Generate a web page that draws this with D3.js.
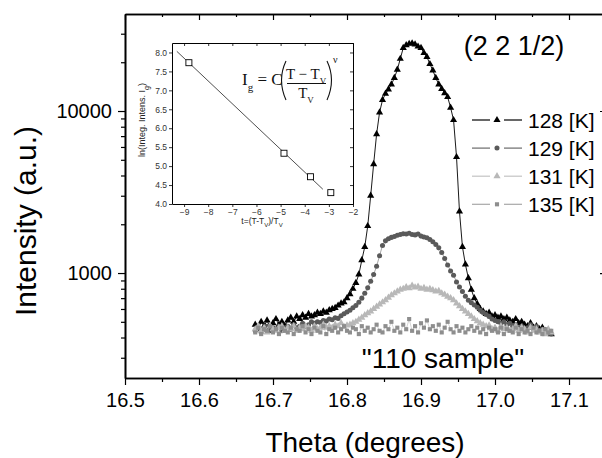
<!DOCTYPE html>
<html>
<head>
<meta charset="utf-8">
<script src="https://d3js.org/d3.v7.min.js"></script>
<style>
body { margin: 0; background: #fff; }
svg { display: block; font-family: "Liberation Sans", Arial, sans-serif; }
</style>
</head>
<body>
<svg id="chart" width="602" height="458"></svg>
<script>
// scan angle grid (degrees)
const theta = [
  16.676,16.680,16.684,16.688,16.692,16.696,16.700,16.704,16.708,16.712,
  16.716,16.720,16.724,16.728,16.732,16.736,16.740,16.744,16.748,16.752,
  16.756,16.760,16.764,16.768,16.772,16.776,16.780,16.784,16.788,16.792,
  16.796,16.800,16.804,16.808,16.812,16.816,16.820,16.824,16.828,16.832,
  16.836,16.840,16.844,16.848,16.852,16.856,16.860,16.864,16.868,16.872,
  16.876,16.880,16.884,16.888,16.892,16.896,16.900,16.904,16.908,16.912,
  16.916,16.920,16.924,16.928,16.932,16.936,16.940,16.944,16.948,16.952,
  16.956,16.960,16.964,16.968,16.972,16.976,16.980,16.984,16.988,16.992,
  16.996,17.000,17.004,17.008,17.012,17.016,17.020,17.024,17.028,17.032,
  17.036,17.040,17.044,17.048,17.052,17.056,17.060,17.064,17.068,17.072,
  17.076
];

const i128 = [
  480,450,500,470,510,460,490,520,480,500,
  470,510,530,500,540,520,550,530,560,540,
  550,570,560,580,570,590,600,610,630,650,
  660,700,740,800,870,980,1200,1450,1950,3000,
  4700,7200,9800,11700,12800,13600,14600,16000,18000,21000,
  24500,25500,26000,26200,25800,25000,24500,22800,21600,19500,
  17800,16000,14600,13700,12900,12200,10500,8800,5200,2400,
  1450,1130,930,790,700,645,600,580,560,570,
  540,550,530,540,520,530,510,500,520,490,
  500,480,470,490,460,470,450,460,440,430,
  420
];

const i129 = [
  440,460,430,450,470,440,460,450,470,440,
  460,470,450,480,460,470,490,470,480,500,
  490,500,495,510,505,520,515,530,525,545,
  560,575,590,610,630,660,700,750,810,890,
  980,1100,1280,1480,1580,1630,1660,1680,1710,1730,
  1750,1740,1760,1730,1720,1740,1690,1670,1650,1610,
  1560,1500,1430,1340,1230,1120,1030,970,880,820,
  770,720,680,655,635,615,590,570,555,540,
  520,510,500,490,500,480,490,470,480,460,
  470,450,460,480,450,470,440,450,430,440,
  420
];

const i131 = [
  450,470,440,460,430,470,450,440,460,470,
  440,460,450,470,440,460,450,470,460,440,
  470,450,460,480,460,470,460,480,470,490,
  465,475,480,490,500,515,530,550,565,580,
  600,620,640,660,680,705,730,750,770,790,
  800,820,805,835,815,825,800,810,790,800,
  785,770,775,750,735,715,700,680,650,625,
  600,580,560,540,520,505,490,480,470,475,
  450,460,440,470,450,460,440,450,470,440,
  460,450,430,460,440,450,430,440,420,450,
  430
];

const i135 = [
  430,460,420,450,440,470,430,450,420,460,
  440,430,460,420,450,440,470,430,450,420,
  460,440,430,470,420,450,440,460,430,450,
  470,440,430,460,450,420,470,440,460,430,
  450,480,440,430,470,450,500,440,460,430,
  480,450,520,440,470,430,490,460,510,450,
  470,440,480,430,460,500,450,430,470,440,
  460,430,450,470,440,460,430,450,420,460,
  440,450,430,460,420,450,440,430,460,420,
  450,430,440,420,460,430,440,420,450,430,
  440
];

const seriesNames = ["128 [K]", "129 [K]", "131 [K]", "135 [K]"];
const xTicks = [16.5, 16.6, 16.7, 16.8, 16.9, 17.0, 17.1];
const xMinor = [16.55, 16.65, 16.75, 16.85, 16.95, 17.05, 17.15];
const yTicks = [1000, 10000];
const yMinor = [300, 400, 500, 600, 700, 800, 900, 2000, 3000, 4000, 5000, 6000, 7000, 8000, 9000, 20000, 30000];

// inset: ln of integrated intensity vs reduced temperature
const insetT = [-8.8, -4.86, -3.76, -2.92];
const insetLn = [7.73, 5.34, 4.72, 4.30];
const fitT = [-9.3, -3.25];
const fitLn = [8.03, 4.39];
const insetXTicks = [-9, -8, -7, -6, -5, -4, -3, -2];
const insetYTicks = [4.0, 4.5, 5.0, 5.5, 6.0, 6.5, 7.0, 7.5, 8.0];

const svg = d3.select("#chart");

let x = d3.scaleLinear().domain([16.5, 17.15]).range([125, 606]),
    y = d3.scaleLog().domain([225, 39700]).range([378, 14]);

let series = [
  { name: seriesNames[0], values: i128, color: "#000", line: "#000", lw: 0.9, shape: d3.symbolTriangle, size: 22 },
  { name: seriesNames[1], values: i129, color: "#5a5a5a", line: "#6a6a6a", lw: 0.6, shape: d3.symbolCircle, size: 20 },
  { name: seriesNames[2], values: i131, color: "#b8b8b8", line: "#c4c4c4", lw: 0.6, shape: d3.symbolTriangle, size: 22 },
  { name: seriesNames[3], values: i135, color: "#8e8e8e", line: "#a8a8a8", lw: 0.5, shape: d3.symbolSquare, size: 17 }
];

// data
let plot = svg.append("g");
let lineFunc = d3.line()
  .x((d, i) => x(theta[i]))
  .y(d => y(d));

series.forEach(function(s) {
  let g = plot.append("g");
  g.append("path")
    .attr("d", lineFunc(s.values))
    .attr("fill", "none")
    .attr("stroke", s.line)
    .attr("stroke-width", s.lw);
  g.selectAll("path.pt")
    .data(s.values)
    .enter().append("path")
    .attr("class", "pt")
    .attr("transform", (d, i) => "translate(" + x(theta[i]) + "," + y(d) + ")")
    .attr("d", d3.symbol().type(s.shape).size(s.size))
    .attr("fill", s.color);
});

// axes
function styleAxis(g, fs) {
  g.select(".domain").attr("stroke", "#000").attr("stroke-width", 1.6);
  g.selectAll(".tick line").attr("stroke", "#000").attr("stroke-width", 1.2);
  g.selectAll(".tick text").attr("fill", "#000").style("font-size", fs + "px")
    .style("font-family", "'Liberation Sans', Arial, sans-serif");
}

let gx = svg.append("g").attr("transform", "translate(0,378)")
  .call(d3.axisBottom(x).tickValues(xTicks).tickSize(7).tickSizeOuter(0)
    .tickPadding(8).tickFormat(d3.format(".1f")));
styleAxis(gx, 20);
svg.append("g").attr("transform", "translate(0,378)")
  .call(d3.axisBottom(x).tickValues(xMinor).tickSize(4).tickSizeOuter(0).tickFormat(""))
  .call(g => styleAxis(g, 20));

let gxt = svg.append("g").attr("transform", "translate(0,14)")
  .call(d3.axisTop(x).tickValues(xTicks).tickSize(-6).tickSizeOuter(0).tickFormat(""));
styleAxis(gxt, 20);
svg.append("g").attr("transform", "translate(0,14)")
  .call(d3.axisTop(x).tickValues(xMinor).tickSize(-3).tickSizeOuter(0).tickFormat(""))
  .call(g => styleAxis(g, 20));

let gy = svg.append("g").attr("transform", "translate(125,0)")
  .call(d3.axisLeft(y).tickValues(yTicks).tickSize(7).tickSizeOuter(0)
    .tickPadding(6).tickFormat(d3.format("d")));
styleAxis(gy, 20);
svg.append("g").attr("transform", "translate(125,0)")
  .call(d3.axisLeft(y).tickValues(yMinor).tickSize(4).tickSizeOuter(0).tickFormat(""))
  .call(g => styleAxis(g, 20));

svg.append("g").attr("transform", "translate(606,0)")
  .call(d3.axisRight(y).tickValues(yTicks).tickSize(-6).tickSizeOuter(0).tickFormat(""))
  .call(g => styleAxis(g, 20));
svg.append("g").attr("transform", "translate(606,0)")
  .call(d3.axisRight(y).tickValues(yMinor).tickSize(-4).tickSizeOuter(0).tickFormat(""))
  .call(g => styleAxis(g, 20));

// axis titles
svg.append("text")
  .attr("transform", "translate(36,221) rotate(-90)")
  .attr("text-anchor", "middle")
  .style("font-size", "30px")
  .text("Intensity (a.u.)");

svg.append("text")
  .attr("x", 365).attr("y", 452)
  .attr("text-anchor", "middle")
  .style("font-size", "28px")
  .text("Theta (degrees)");

// annotations
svg.append("text")
  .attr("x", 514).attr("y", 55)
  .attr("text-anchor", "middle")
  .style("font-size", "27px")
  .text("(2 2 1/2)");

svg.append("text")
  .attr("x", 443).attr("y", 368)
  .attr("text-anchor", "middle")
  .style("font-size", "28px")
  .text("\"110 sample\"");

// legend
let legend = svg.append("g").selectAll("g")
  .data(series).enter().append("g")
  .attr("transform", (d, i) => "translate(0," + (120 + i * 28.1) + ")");
legend.append("line").attr("x1", 472).attr("x2", 490).attr("y1", 0).attr("y2", 0)
  .attr("stroke", d => d.line).attr("stroke-width", 1.2);
legend.append("line").attr("x1", 504).attr("x2", 522).attr("y1", 0).attr("y2", 0)
  .attr("stroke", d => d.line).attr("stroke-width", 1.2);
legend.append("path")
  .attr("transform", "translate(497,0)")
  .attr("d", d => d3.symbol().type(d.shape).size(d.size)())
  .attr("fill", d => d.color);
legend.append("text")
  .attr("x", 528).attr("y", 7.5)
  .style("font-size", "21px")
  .text(d => d.name);

// inset
let ix = d3.scaleLinear().domain([-9.5, -2]).range([172, 353]),
    iy = d3.scaleLinear().domain([4, 8.25]).range([204, 43]);

let inset = svg.append("g");
inset.append("rect")
  .attr("x", 172).attr("y", 43).attr("width", 181).attr("height", 161)
  .attr("fill", "#fff").attr("stroke", "none");

function styleInset(g) {
  g.select(".domain").attr("stroke", "#000").attr("stroke-width", 1);
  g.selectAll(".tick line").attr("stroke", "#000").attr("stroke-width", 0.8);
  g.selectAll(".tick text").attr("fill", "#333").style("font-size", "8.5px")
    .style("font-family", "'Liberation Sans', Arial, sans-serif");
}

inset.append("g").attr("transform", "translate(0,204)")
  .call(d3.axisBottom(ix).tickValues(insetXTicks).tickSize(3).tickSizeOuter(0).tickPadding(2)
    .tickFormat(d3.format("d")))
  .call(styleInset);
inset.append("g").attr("transform", "translate(0,43)")
  .call(d3.axisTop(ix).tickValues(insetXTicks).tickSize(-3).tickSizeOuter(0).tickFormat(""))
  .call(styleInset);
inset.append("g").attr("transform", "translate(172,0)")
  .call(d3.axisLeft(iy).tickValues(insetYTicks).tickSize(3).tickSizeOuter(0).tickPadding(2)
    .tickFormat(d3.format(".1f")))
  .call(styleInset);
inset.append("g").attr("transform", "translate(353,0)")
  .call(d3.axisRight(iy).tickValues(insetYTicks).tickSize(-3).tickSizeOuter(0).tickFormat(""))
  .call(styleInset);

inset.append("path")
  .attr("d", d3.line().x((d, i) => ix(fitT[i])).y(d => iy(d))(fitLn))
  .attr("stroke", "#222").attr("stroke-width", 0.8).attr("fill", "none");

inset.selectAll("rect.pt")
  .data(insetLn).enter().append("rect")
  .attr("class", "pt")
  .attr("x", (d, i) => ix(insetT[i]) - 3)
  .attr("y", d => iy(d) - 3)
  .attr("width", 6).attr("height", 6)
  .attr("fill", "#fff").attr("stroke", "#000").attr("stroke-width", 0.9);

let iyl = inset.append("text")
  .attr("transform", "translate(145,120) rotate(-90)")
  .attr("text-anchor", "middle")
  .style("font-size", "9px")
  .attr("fill", "#222");
iyl.append("tspan").text("ln(Integ. Intens. I");
iyl.append("tspan").attr("baseline-shift", "sub").style("font-size", "7px").text("g");
iyl.append("tspan").text(")");

let ixl = inset.append("text")
  .attr("x", 262).attr("y", 224)
  .attr("text-anchor", "middle")
  .style("font-size", "8.5px")
  .attr("fill", "#222");
ixl.append("tspan").text("t=(T-T");
ixl.append("tspan").attr("baseline-shift", "sub").style("font-size", "6px").text("V");
ixl.append("tspan").text(")/T");
ixl.append("tspan").attr("baseline-shift", "sub").style("font-size", "6px").text("V");

// formula I_g = C((T - T_V)/T_V)^nu
let fm = inset.append("g")
  .style("font-family", "'Liberation Serif', 'Times New Roman', serif")
  .attr("fill", "#111");
let f1 = fm.append("text").attr("x", 242).attr("y", 85).style("font-size", "17px");
f1.append("tspan").text("I");
f1.append("tspan").attr("baseline-shift", "sub").style("font-size", "11px").text("g");
f1.append("tspan").text(" = C");
fm.append("path")
  .attr("d", "M286,61 Q277,80 286,100")
  .attr("stroke", "#111").attr("stroke-width", 1.1).attr("fill", "none");
fm.append("path")
  .attr("d", "M327,61 Q336,80 327,100")
  .attr("stroke", "#111").attr("stroke-width", 1.1).attr("fill", "none");
let fn = fm.append("text").attr("x", 306).attr("y", 79).attr("text-anchor", "middle")
  .style("font-size", "15px");
fn.append("tspan").text("T \u2212 T");
fn.append("tspan").attr("baseline-shift", "sub").style("font-size", "9px").text("V");
fm.append("line").attr("x1", 287).attr("x2", 326).attr("y1", 83.5).attr("y2", 83.5)
  .attr("stroke", "#111").attr("stroke-width", 1);
let fd = fm.append("text").attr("x", 306).attr("y", 98).attr("text-anchor", "middle")
  .style("font-size", "15px");
fd.append("tspan").text("T");
fd.append("tspan").attr("baseline-shift", "sub").style("font-size", "9px").text("V");
fm.append("text").attr("x", 333).attr("y", 63).style("font-size", "10px").text("\u03bd");
</script>
</body>
</html>
